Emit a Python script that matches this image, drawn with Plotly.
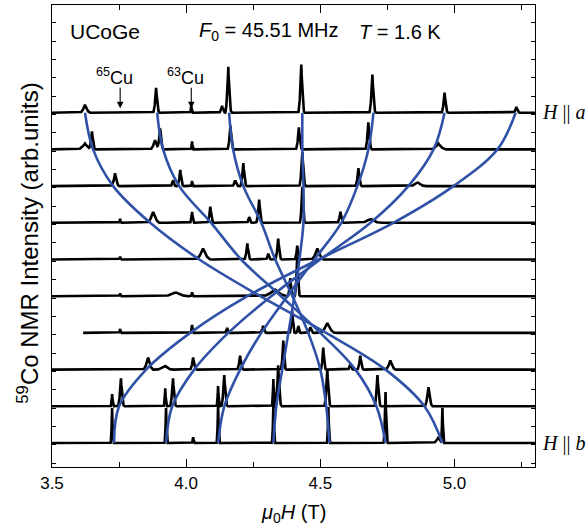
import numpy as np
import plotly.graph_objects as go

# ---------------- data ----------------
# vertical offset of each spectrum (top: H||a ... bottom: H||b)
offsets = [9, 8, 7, 6, 5, 4, 3, 2, 1, 0]
trace_start = [3.5, 3.5, 3.5, 3.5, 3.5, 3.5, 3.616, 3.5, 3.5, 3.5]
trace_end = 5.3

# peak positions (T), heights (trace-spacing units), half widths (T)
peak_pos = [
    [3.623, 3.888, 4.019, 4.134, 4.157, 4.429, 4.694, 4.963, 5.231],
    [3.623, 3.649, 3.884, 3.903, 4.022, 4.165, 4.420, 4.679, 4.940],
    [3.735, 3.951, 3.978, 4.022, 4.183, 4.213, 4.433, 4.642, 4.862],
    [3.754, 3.877, 4.022, 4.090, 4.235, 4.272, 4.433, 4.575, 4.687],
    [3.754, 4.063, 4.228, 4.306, 4.343, 4.414, 4.489],
    [3.754, 3.960, 4.022, 4.330, 4.388, 4.414],
    [3.754, 4.022, 4.153, 4.287, 4.395, 4.418, 4.463, 4.526],
    [3.858, 3.920, 4.026, 4.201, 4.362, 4.511, 4.612, 4.649, 4.761],
    [3.724, 3.757, 3.922, 3.951, 4.119, 4.142, 4.325, 4.343, 4.526, 4.713, 4.903],
    [3.724, 3.925, 4.026, 4.119, 4.325, 4.530, 4.743, 4.940, 4.955],
]
peak_h = [
    [0.22, 0.68, 0.19, 0.19, 1.25, 1.31, 1.04, 0.55, 0.16],
    [0.16, 0.49, 0.25, 0.57, 0.22, 0.65, 0.60, 0.74, 0.16],
    [0.35, 0.16, 0.44, 0.14, 0.16, 0.63, 0.93, 0.49, 0.11],
    [0.11, 0.30, 0.30, 0.44, 0.16, 0.63, 0.98, 0.30, 0.11],
    [0.08, 0.30, 0.44, 0.16, 0.57, 0.38, 0.30],
    [0.08, 0.11, 0.11, 0.19, 0.49, 1.09],
    [0.11, 0.22, 0.14, 0.19, 0.60, 0.19, 0.16, 0.27],
    [0.33, 0.11, 0.33, 0.38, 0.79, 0.60, 0.16, 0.38, 0.25],
    [0.33, 0.76, 0.49, 0.76, 0.55, 0.85, 0.74, 1.12, 1.01, 0.85, 0.52],
    [0.95, 0.95, 0.16, 1.04, 1.04, 0.98, 1.39, 0.16, 0.95],
]
peak_w = [
    [0.020, 0.012, 0.005, 0.012, 0.012, 0.012, 0.012, 0.012, 0.012],
    [0.030, 0.012, 0.020, 0.012, 0.005, 0.012, 0.012, 0.012, 0.030],
    [0.015, 0.010, 0.012, 0.005, 0.012, 0.012, 0.012, 0.012, 0.030],
    [0.005, 0.025, 0.008, 0.012, 0.010, 0.012, 0.010, 0.012, 0.040],
    [0.005, 0.030, 0.012, 0.010, 0.012, 0.010, 0.025],
    [0.005, 0.050, 0.005, 0.050, 0.010, 0.010],
    [0.005, 0.006, 0.010, 0.012, 0.010, 0.008, 0.012, 0.030],
    [0.020, 0.030, 0.012, 0.012, 0.010, 0.010, 0.010, 0.012, 0.020],
    [0.006, 0.012, 0.006, 0.012, 0.006, 0.012, 0.006, 0.012, 0.012, 0.012, 0.015],
    [0.006, 0.006, 0.005, 0.006, 0.006, 0.006, 0.008, 0.020, 0.006],
]

# calculated resonance lines (blue), field (T) at each spectrum offset (top->bottom)
line_1 = [3.623, 3.653, 3.728, 3.866, 4.049, 4.276, 4.522, 4.743, 4.888, 4.955]
line_2 = [3.892, 3.914, 3.974, 4.093, 4.205, 4.354, 4.500, 4.631, 4.709, 4.743]
line_3 = [4.160, 4.175, 4.213, 4.280, 4.332, 4.396, 4.455, 4.500, 4.522, 4.534]
line_4 = [4.433, 4.433, 4.437, 4.437, 4.422, 4.403, 4.381, 4.358, 4.336, 4.325]
line_5 = [4.698, 4.679, 4.638, 4.578, 4.478, 4.377, 4.280, 4.201, 4.142, 4.119]
line_6 = [4.963, 4.922, 4.828, 4.687, 4.500, 4.317, 4.157, 4.030, 3.948, 3.925]
line_7 = [5.228, 5.160, 4.996, 4.772, 4.493, 4.228, 4.015, 3.851, 3.750, 3.731]
blue_lines = [line_1, line_2, line_3, line_4, line_5, line_6, line_7]

cu_labels = ["<sup>65</sup>Cu", "<sup>63</sup>Cu"]
cu_pos = [3.754, 4.019]

orient_labels = ["<i>H</i> || <i>a</i>", "<i>H</i> || <i>b</i>"]
orient_offsets = [9, 0]

x_ticks = [3.5, 4.0, 4.5, 5.0]
x_ticktext = ["3.5", "4.0", "4.5", "5.0"]

# ---------------- figure ----------------
BLUE = "#2f52a6"
fig = go.Figure()

xg = np.arange(3.5, trace_end + 1e-9, 0.0005)
for k in range(len(offsets)):
    y = np.full(xg.shape, float(offsets[k]))
    for p, h, w in zip(peak_pos[k], peak_h[k], peak_w[k]):
        d = np.abs(xg - p) / w
        y += h * np.clip(1.0 - d, 0.0, None) ** 2
    m = xg >= trace_start[k]
    fig.add_trace(go.Scatter(x=xg[m], y=y[m], mode="lines",
                             line=dict(color="black", width=2.6),
                             hoverinfo="skip", showlegend=False))

for ln in blue_lines:
    fig.add_trace(go.Scatter(x=ln, y=offsets, mode="lines",
                             line=dict(color=BLUE, width=2.6, shape="spline", smoothing=1.0),
                             hoverinfo="skip", showlegend=False))

FONT = "Liberation Sans, Arial, sans-serif"
SERIF = "Liberation Serif, Times New Roman, serif"

ann = []
ann.append(dict(text="UCoGe", x=3.56, y=11.2, xref="x", yref="y", xanchor="left",
                yanchor="middle", showarrow=False, font=dict(family=FONT, size=21)))
ann.append(dict(text="<i>F</i><sub>0</sub> = 45.51 MHz", x=4.04, y=11.2, xref="x", yref="y",
                xanchor="left", yanchor="middle", showarrow=False, font=dict(family=FONT, size=20)))
ann.append(dict(text="<i>T</i> = 1.6 K", x=4.638, y=11.2, xref="x", yref="y",
                xanchor="left", yanchor="middle", showarrow=False, font=dict(family=FONT, size=20)))
for lab, xp in zip(cu_labels, cu_pos):
    ann.append(dict(text=lab, x=xp - 0.02, y=10.0, xref="x", yref="y", xanchor="center",
                    yanchor="middle", showarrow=False, font=dict(family=FONT, size=18)))
    ann.append(dict(text="", x=xp, y=9.12, xref="x", yref="y", ax=0, ay=-22,
                    showarrow=True, arrowhead=2, arrowsize=1.2, arrowwidth=1.1, arrowcolor="black"))
for lab, off in zip(orient_labels, orient_offsets):
    ann.append(dict(text=lab, x=1.01, y=off, xref="paper", yref="y", xanchor="left",
                    yanchor="middle", showarrow=False, font=dict(family=SERIF, size=20)))
ann.append(dict(text="<i>μ</i><sub>0</sub><i>H</i> (T)", x=0.5, y=-0.1, xref="paper", yref="paper",
                xanchor="center", yanchor="middle", showarrow=False, font=dict(family=FONT, size=20)))
ann.append(dict(text="<sup>59</sup>Co NMR Intensity (arb.units)", x=-0.05, y=0.485,
                xref="paper", yref="paper", xanchor="center", yanchor="middle", textangle=-90,
                showarrow=False, font=dict(family=FONT, size=24)))

fig.update_layout(
    width=586, height=528,
    margin=dict(l=52, r=51, t=5, b=61),
    plot_bgcolor="white", paper_bgcolor="white",
    showlegend=False,
    font=dict(family=FONT, size=17, color="black"),
    annotations=ann,
    xaxis=dict(range=[3.5, 5.3], tickvals=x_ticks, ticktext=x_ticktext,
               ticks="inside", ticklen=8, tickwidth=1, tickcolor="black",
               showline=True, linewidth=1.2, linecolor="black", mirror="ticks",
               showgrid=False, zeroline=False,
               minor=dict(tickvals=[3.75, 4.25, 4.75, 5.25], ticklen=5, ticks="inside",
                          tickcolor="black", showgrid=False),
               tickfont=dict(family=FONT, size=17)),
    yaxis=dict(range=[-0.654, 11.935], tick0=-0.05, dtick=0.5,
               ticks="inside", ticklen=4, tickwidth=1, tickcolor="black",
               showticklabels=False, showline=True, linewidth=1.2, linecolor="black",
               mirror="ticks", showgrid=False, zeroline=False),
)

fig.write_html("out.html", config={"displayModeBar": False},
               post_script="document.body.style.margin='0px';")
